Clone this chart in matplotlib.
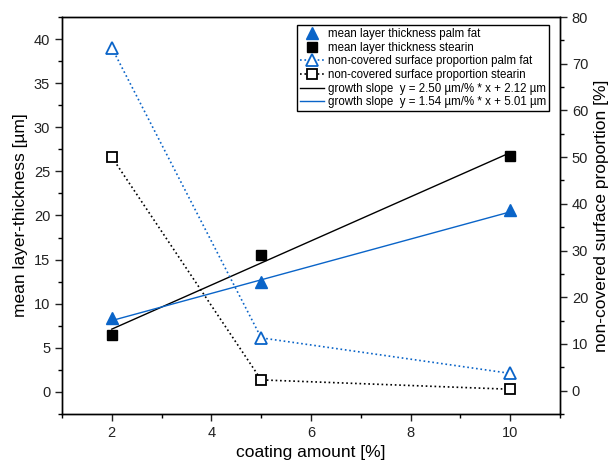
import matplotlib
matplotlib.use("Agg")
import matplotlib.pyplot as plt
import numpy as np
from matplotlib.ticker import MultipleLocator

plt.rcParams['font.family'] = ['Liberation Sans', 'DejaVu Sans']

coating = [2, 5, 10]
thick_palm = [8.4, 12.5, 20.6]
thick_stearin = [6.5, 15.5, 26.8]
noncov_palm = [73.4, 11.3, 3.7]
noncov_stearin = [50.0, 2.3, 0.3]
slope_stearin, icpt_stearin = 2.50, 2.12
slope_palm, icpt_palm = 1.54, 5.01

blue = '#0a64c8'
fig = plt.figure(figsize=(6.11, 4.69), dpi=100)
ax = fig.add_axes([62/611, 1-414/469, (560-62)/611, (414-17)/469])
ax2 = ax.twinx()

xfit = np.array([coating[0], coating[-1]])
l5, = ax.plot(xfit, slope_stearin*xfit + icpt_stearin, color='black', lw=1.0,
              label='growth slope  y = 2.50 µm/% * x + 2.12 µm')
l6, = ax.plot(xfit, slope_palm*xfit + icpt_palm, color=blue, lw=1.0,
              label='growth slope  y = 1.54 µm/% * x + 5.01 µm')
l1, = ax.plot(coating, thick_palm, ls='none', marker='^', ms=9, color=blue,
              label='mean layer thickness palm fat')
l2, = ax.plot(coating, thick_stearin, ls='none', marker='s', ms=7, color='black',
              label='mean layer thickness stearin')
l3, = ax2.plot(coating, noncov_palm, ls=':', lw=1.2, marker='^', ms=9, mfc='white',
               mec=blue, mew=1.3, color=blue,
               label='non-covered surface proportion palm fat')
l4, = ax2.plot(coating, noncov_stearin, ls=':', lw=1.2, marker='s', ms=7, mfc='white',
               mec='black', mew=1.3, color='black',
               label='non-covered surface proportion stearin')

ax.set_xlim(1, 11)
ax.set_ylim(-2.5, 42.5)
ax2.set_ylim(-5, 80)
ax.xaxis.set_major_locator(MultipleLocator(2))
ax.xaxis.set_minor_locator(MultipleLocator(1))
ax.yaxis.set_major_locator(MultipleLocator(5))
ax.yaxis.set_minor_locator(MultipleLocator(2.5))
ax2.yaxis.set_major_locator(MultipleLocator(10))
ax2.yaxis.set_minor_locator(MultipleLocator(5))

for a in (ax, ax2):
    a.tick_params(which='major', direction='out', length=5, width=1, labelsize=10.5, colors='#222222')
    a.tick_params(which='minor', direction='out', length=3, width=1)
    for s in a.spines.values():
        s.set_linewidth(1)

ax.set_xlabel('coating amount [%]', fontsize=12.5)
ax.set_ylabel('mean layer-thickness [µm]', fontsize=12.5)
ax2.set_ylabel('non-covered surface proportion [%]', fontsize=12.5)

leg = ax2.legend(handles=[l1, l2, l3, l4, l5, l6], loc='upper right',
                 bbox_to_anchor=(0.978, 0.98), fontsize=8.3, frameon=True,
                 fancybox=False, edgecolor='black', framealpha=1,
                 labelspacing=0.15, handlelength=2.1, handletextpad=0.35,
                 borderpad=0.25, borderaxespad=0)
leg.get_frame().set_linewidth(1)

fig.savefig('out.png', dpi=100)
